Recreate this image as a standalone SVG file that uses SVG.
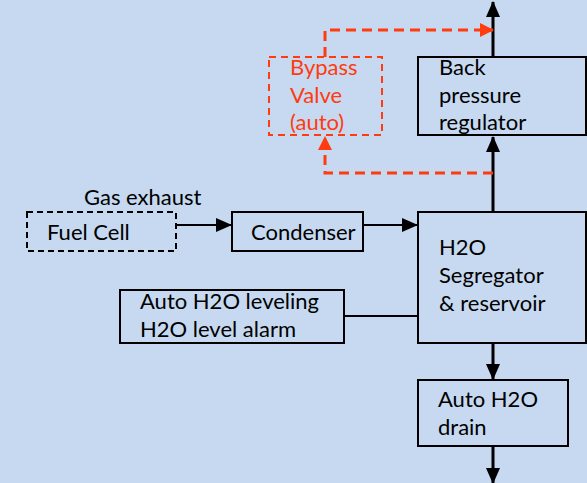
<svg xmlns="http://www.w3.org/2000/svg" width="587" height="483" viewBox="0 0 587 483">
<defs>
<marker id="ar" markerWidth="14" markerHeight="14" refX="13" refY="7" orient="auto" markerUnits="userSpaceOnUse" viewBox="0 0 14 14"><path d="M0,0 L14,7 L0,14 z" fill="#FF3B0F"/></marker>
<marker id="ak" markerWidth="16" markerHeight="14" refX="15" refY="7" orient="auto" markerUnits="userSpaceOnUse" viewBox="0 0 16 14"><path d="M0,0 L16,7 L0,14 z" fill="#000"/></marker>
<style>
.box{fill:none;stroke:#000;stroke-width:2}
.dbox{fill:none;stroke:#000;stroke-width:2;stroke-dasharray:6,4}
.rbox{fill:none;stroke:#FF3B0F;stroke-width:2;stroke-dasharray:7,5}
.t{font-family:Lato,"Open Sans",sans-serif;font-size:22px;fill:#000}
.tr{font-family:Lato,"Open Sans",sans-serif;font-size:22px;fill:#FF3B0F}
.ln{fill:none;stroke:#000;stroke-width:3}
.thin{fill:none;stroke:#000;stroke-width:2}
.rl{fill:none;stroke:#FF3B0F;stroke-width:3;stroke-dasharray:10,6}
</style>
</defs>
<rect width="587" height="483" fill="#C6D9F0"/>
<g id="connectors">
<path class="ln" d="M493,57 V2" marker-end="url(#ak)"/>
<path class="ln" d="M493,212 V137" marker-end="url(#ak)"/>
<path class="rl" d="M325,57 V30 H493" marker-end="url(#ar)"/>
<path class="rl" d="M493,173 H325 V137" marker-end="url(#ar)"/>
<path class="thin" d="M176,225 H231" marker-end="url(#ak)"/>
<path class="thin" d="M363,225 H417" marker-end="url(#ak)"/>
<path class="thin" d="M344,316 H418"/>
<path class="ln" d="M493,343 V379" marker-end="url(#ak)"/>
<path class="ln" d="M493,446 V483" marker-end="url(#ak)"/>
</g>
<g id="bypass">
<rect class="rbox" x="269" y="57" width="113" height="78"/>
<text class="tr" x="290" y="75">Bypass</text>
<text class="tr" x="290" y="103">Valve</text>
<text class="tr" x="290" y="130">(auto)</text>
</g>
<g id="backpressure">
<rect class="box" x="418" y="57" width="168" height="78"/>
<text class="t" x="439" y="75">Back</text>
<text class="t" x="439" y="103">pressure</text>
<text class="t" x="439" y="130">regulator</text>
</g>
<g id="fuelcell">
<text class="t" x="84" y="205">Gas exhaust</text>
<rect class="dbox" x="27" y="212" width="149" height="39"/>
<text class="t" x="47" y="240">Fuel Cell</text>
</g>
<g id="condenser">
<rect class="box" x="232" y="212" width="131" height="39"/>
<text class="t" x="251" y="240">Condenser</text>
</g>
<g id="segregator">
<rect class="box" x="418" y="212" width="168" height="131"/>
<text class="t" x="439" y="255">H2O</text>
<text class="t" x="439" y="283">Segregator</text>
<text class="t" x="439" y="311">&amp; reservoir</text>
</g>
<g id="leveling">
<rect class="box" x="120" y="290" width="224" height="53"/>
<text class="t" x="140" y="309">Auto H2O leveling</text>
<text class="t" x="140" y="337">H2O level alarm</text>
</g>
<g id="drain">
<rect class="box" x="418" y="380" width="150" height="66"/>
<text class="t" x="438" y="407">Auto H2O</text>
<text class="t" x="438" y="435">drain</text>
</g>
</svg>
